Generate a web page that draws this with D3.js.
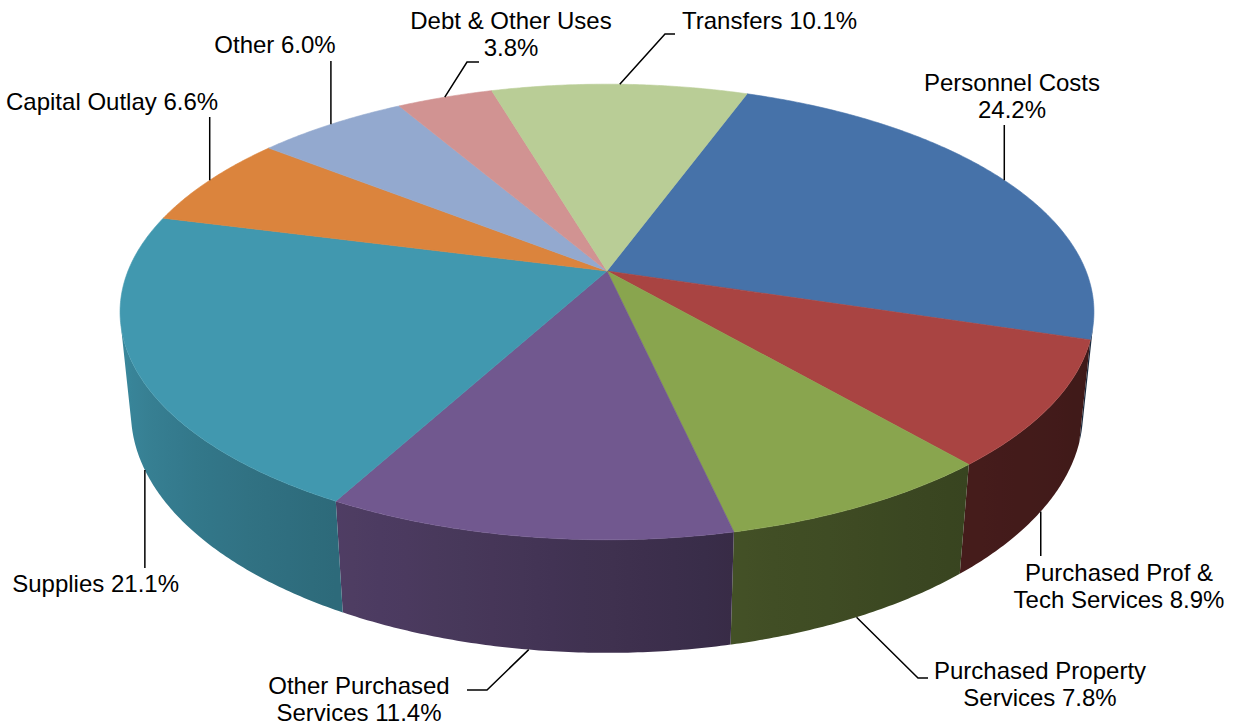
<!DOCTYPE html>
<meta charset="utf-8">
<head>
<style>
body { margin: 0; background: #fff; }
text { font-family: "Liberation Sans", Arial, sans-serif; font-size: 24px; fill: #000; }
</style>
</head>
<body>
<div id="chart"></div>
<script src="https://d3js.org/d3.v7.min.js"></script>
<script>
// slices, clockwise from the first slice
const categories = ["Personnel Costs", "Purchased Prof & Tech Services", "Purchased Property Services",
  "Other Purchased Services", "Supplies", "Capital Outlay", "Other", "Debt & Other Uses", "Transfers"];
const values = [24.2, 8.9, 7.8, 11.4, 21.1, 6.6, 6.0, 3.8, 10.1];
const colors = ["#4672a9", "#a94442", "#89a54e", "#71588f", "#4198af", "#db843d", "#93a9cf", "#d19392", "#b9cd96"];
// words on the first label line (0 = one line)
const firstLineWords = [2, 3, 2, 2, 0, 0, 0, 4, 0];

const width = 1237, height = 727;

// label placement: first baseline, anchor, and leader bend points
const labelLayout = [
  {x: 1012, y: 91, anchor: "middle", leader: [[null, 125]]},
  {x: 1119, y: 581, anchor: "middle", leader: [[null, 556]]},
  {x: 1040, y: 679, anchor: "middle", leader: [[918, 678], [928, 678]]},
  {x: 359, y: 694, anchor: "middle", leader: [[487, 690], [467, 690]]},
  {x: 179, y: 592, anchor: "end", leader: [[null, 568]]},
  {x: 6, y: 110, anchor: "start", leader: [[null, 117]]},
  {x: 275, y: 53, anchor: "middle", leader: [[null, 61]]},
  {x: 511, y: 29, anchor: "middle", leader: [[467, 62], [479, 62]]},
  {x: 682, y: 29, anchor: "start", leader: [[665, 34], [675, 34]]}
];

const svg = d3.select("#chart").append("svg")
  .attr("width", width)
  .attr("height", height);
const defs = svg.append("defs");

// 3d view of the pie: perspective camera looking down at the disc
const cx = 607, cy = 271, F = 479;
const elev = 27.4 * Math.PI / 180, k = 0.2026, H = 0.238;
const D = 1 / k, FD = F * D;

function proj(a, y) {
  const s = Math.sin(a), c = Math.cos(a);
  const depth = D - y * Math.sin(elev) + c * Math.cos(elev);
  return [cx + FD * s / depth, cy - FD * (y * Math.cos(elev) + c * Math.sin(elev)) / depth];
}

const startAngle = 20 * Math.PI / 180;
const pie = d3.pie().sort(null).value(d => d)
  .startAngle(startAngle).endAngle(startAngle + 2 * Math.PI);
const arcs = pie(values);

// darker shade for the wall, lit from the left
const shade = d3.scaleLinear()
  .domain([100, 140, 165, 200, 250, 280])
  .range([0.36, 0.41, 0.48, 0.66, 0.88, 0.9])
  .clamp(true);

const line = d3.line();
const step = Math.PI / 360;
// visible part of the wall
const visLo = Math.acos(-1 / (D * Math.cos(elev)));
const visHi = 2 * Math.PI - visLo;

// side walls
const wallG = svg.append("g");
arcs.forEach((d, i) => {
  const norm = a => ((a % (2 * Math.PI)) + 2 * Math.PI) % (2 * Math.PI);
  let a0 = norm(d.startAngle), a1 = a0 + (d.endAngle - d.startAngle);
  a0 = Math.max(a0, visLo);
  a1 = Math.min(a1, visHi);
  if (a1 <= a0) return;
  const angs = d3.range(a0, a1, step).concat([a1]);
  const topPts = angs.map(a => proj(a, 0));
  const botPts = angs.map(a => proj(a, -H)).reverse();

  const base = d3.rgb(colors[i]);
  const x1 = topPts[0][0], x2 = topPts[topPts.length - 1][0];
  const g = defs.append("linearGradient")
    .attr("id", "wall" + i)
    .attr("gradientUnits", "userSpaceOnUse")
    .attr("x1", x1).attr("y1", 0).attr("x2", x2).attr("y2", 0);
  angs.filter((a, j) => j % 6 === 0 || j === angs.length - 1).forEach(a => {
    const f = shade(a * 180 / Math.PI);
    g.append("stop")
      .attr("offset", (proj(a, 0)[0] - x1) / (x2 - x1))
      .attr("stop-color", d3.rgb(base.r * f, base.g * f, base.b * f).formatHex());
  });

  wallG.append("path")
    .attr("d", line(topPts.concat(botPts)) + "Z")
    .attr("fill", "url(#wall" + i + ")");
});

// top faces
const faceG = svg.append("g");
arcs.forEach((d, i) => {
  const pts = [[cx, cy]];
  for (let a = d.startAngle; a < d.endAngle; a += step) pts.push(proj(a, 0));
  pts.push(proj(d.endAngle, 0));
  faceG.append("path")
    .attr("d", line(pts) + "Z")
    .attr("fill", colors[i])
    .attr("stroke", colors[i])
    .attr("stroke-width", 0.6);
});

// leader lines and labels
const labelG = svg.append("g");
arcs.forEach((d, i) => {
  const m = (d.startAngle + d.endAngle) / 2;
  const front = Math.cos(m) < -1 / (D * Math.cos(elev));
  const p0 = proj(m, front ? -H : 0);
  const L = labelLayout[i];
  const pts = [p0].concat(L.leader.map(q => [q[0] == null ? p0[0] : q[0], q[1]]));
  labelG.append("path")
    .attr("d", line(pts))
    .attr("fill", "none")
    .attr("stroke", "#000")
    .attr("stroke-width", 1.5);

  const words = (categories[i] + " " + values[i].toFixed(1) + "%").split(" ");
  const n = firstLineWords[i];
  const rows = n ? [words.slice(0, n).join(" "), words.slice(n).join(" ")] : [words.join(" ")];
  const t = labelG.append("text")
    .attr("x", L.x)
    .attr("y", L.y)
    .attr("text-anchor", L.anchor);
  rows.forEach((r, j) => {
    t.append("tspan")
      .attr("x", L.x)
      .attr("dy", j ? 27 : 0)
      .text(r);
  });
});
</script>
</body>
</html>
